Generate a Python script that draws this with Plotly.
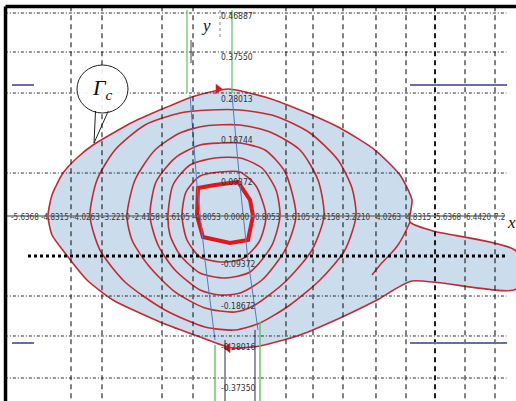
import plotly.graph_objects as go

# ---------------- data (x in axis units, y in axis units) ----------------
x_tick_vals = [-5.6368, -4.8315, -4.0263, -3.2210, -2.4158, -1.6105, -0.8053, 0.0,
               0.8053, 1.6105, 2.4158, 3.2210, 4.0263, 4.8315, 5.6368, 6.4420, 7.2473]
x_tick_text = ["-5.6368", "-4.8315", "-4.0263", "-3.2210", "-2.4158", "-1.6105", "-0.8053",
               "0.0000", "0.8053", "1.6105", "2.4158", "3.2210", "4.0263", "4.8315",
               "5.6368", "6.4420", "7.2"]
y_tick_vals = [0.46887, 0.37550, 0.28013, 0.18744, 0.09372, -0.09372, -0.18672, -0.28016, -0.37350]
y_tick_text = ["0.46887", "0.37550", "0.28013", "0.18744", "0.09372", "-0.09372", "-0.18672",
               "-0.28016", "-0.37350"]

grid_x = [-4.412, -3.588, -1.993, -1.169, 1.302, 2.020, 2.817, 3.694, 4.492, 5.262, 6.060, 6.857]
grid_y = [0.4590, 0.3708, 0.2781, 0.0972, -0.1809, -0.2713, -0.3663]
dotted_y = -0.0904

# outer boundary Gamma_c (with tail to the right)
outer_x = [-5.023, -4.917, -4.625, -4.226, -3.827, -2.764, -1.860, -1.116, -0.239, 0.744, 1.674,
           2.738, 3.668, 4.332, 4.651, 4.598, 5.209, 7.415, 7.415, 4.651, 3.721, 2.738, 1.674,
           0.611, -0.133, -0.983, -2.047, -3.296, -3.987, -4.572, -4.917, -5.023]
outer_y = [0.0, 0.0475, 0.0972, 0.1334, 0.1605, 0.2125, 0.2464, 0.2713, 0.2871, 0.2690, 0.2397,
           0.1990, 0.1492, 0.0927, 0.0362, -0.0136, -0.0339, -0.0791, -0.1650, -0.1470, -0.1899,
           -0.2306, -0.2690, -0.2939, -0.2984, -0.2736, -0.2397, -0.1899, -0.1447, -0.0837,
           -0.0430, 0.0]

loop5_x = [-3.907, -3.721, -3.243, -2.445, -1.515, -0.718, 0.080, 1.010, 1.940, 2.684, 3.056, 3.163,
           2.870, 2.206, 1.409, 0.611, -0.053, -0.851, -1.914, -2.977, -3.641, -3.907]
loop5_y = [0.0, 0.0814, 0.1492, 0.2057, 0.2329, 0.2397, 0.2397, 0.2261, 0.1877, 0.1266, 0.0633, 0.0,
           -0.0769, -0.1447, -0.2012, -0.2419, -0.2577, -0.2510, -0.2125, -0.1492, -0.0769, 0.0]

loop4_x = [-2.924, -2.711, -2.179, -1.515, -0.851, 0.080, 0.877, 1.674, 2.153, 2.312, 1.993, 1.276,
           0.478, -0.053, -0.851, -1.648, -2.365, -2.791, -2.924]
loop4_y = [0.0, 0.0814, 0.1492, 0.1877, 0.2035, 0.2057, 0.1899, 0.1492, 0.0814, 0.0, -0.0769, -0.1492,
           -0.2012, -0.2170, -0.2080, -0.1718, -0.1108, -0.0543, 0.0]

loop3_x = [-2.312, -2.153, -1.648, -0.983, -0.452, 0.080, 0.744, 1.276, 1.568, 1.276, 0.664, 0.080,
           -0.452, -0.983, -1.648, -2.100, -2.312]
loop3_y = [0.0, 0.0769, 0.1311, 0.1605, 0.1650, 0.1650, 0.1492, 0.0995, 0.0, -0.0769, -0.1447, -0.1741,
           -0.1786, -0.1673, -0.1221, -0.0656, 0.0]

loop2_x = [-1.834, -1.701, -1.249, -0.585, 0.080, 0.664, 1.037, 1.143, 0.930, 0.346, -0.319, -0.983,
           -1.515, -1.781, -1.834]
loop2_y = [0.0, 0.0701, 0.1153, 0.1311, 0.1311, 0.1085, 0.0588, 0.0, -0.0656, -0.1266, -0.1402, -0.1289,
           -0.0882, -0.0430, 0.0]

loop1_x = [-1.462, -1.355, -0.983, -0.452, 0.080, 0.505, 0.771, 0.585, 0.133, -0.452, -0.983, -1.329, -1.462]
loop1_y = [0.0, 0.0543, 0.0904, 0.0995, 0.0995, 0.0678, 0.0, -0.0588, -0.0972, -0.1040, -0.0927, -0.0543, 0.0]

inner_x = [-1.063, -1.037, -0.585, 0.027, 0.346, 0.425, 0.292, -0.186, -0.904, -1.063]
inner_y = [0.0, 0.0633, 0.0701, 0.0769, 0.0362, 0.0, -0.0543, -0.0610, -0.0475, 0.0]

extra_x = [4.598, 4.279, 3.801, 3.588]
extra_y = [-0.0136, -0.0656, -0.1108, -0.1334]

blue_left_x = [-1.249, -1.063, -0.851, -0.585]
blue_left_y = [0.2736, 0.0701, -0.0995, -0.2804]
blue_right_x = [-0.133, 0.080, 0.292, 0.558]
blue_right_y = [0.2736, 0.0701, -0.0995, -0.2577]

green_top_x = [-1.329, -0.133]
green_top_y = [0.4657, 0.2781]
green_bot = [(-0.585, -0.2917), (0.611, -0.2397)]
dark_bot = [(-0.319, -0.2804), (0.478, -0.2577)]

blue_bars_y = [0.2962, -0.2871]
blue_bars_x = [(-5.980, -5.395), (4.598, 7.176)]

arrow_top = (-0.505, 0.2871)
arrow_bot = (-0.239, -0.2984)

X_RANGE = [-6.299, 7.415]
Y_RANGE = [-0.4183, 0.4884]

RED = "#c42a33"
NARROW = "DejaVu Sans Condensed, Liberation Sans Narrow, Arial Narrow, Liberation Sans, sans-serif"
fig = go.Figure()

fig.add_trace(go.Scatter(x=outer_x, y=outer_y, mode="lines", fill="toself",
                         fillcolor="#cbdced", line=dict(color=RED, width=1.6, shape="spline", smoothing=0.6),
                         hoverinfo="skip", showlegend=False))
for lx, ly in [(loop5_x, loop5_y), (loop4_x, loop4_y), (loop3_x, loop3_y),
               (loop2_x, loop2_y), (loop1_x, loop1_y)]:
    fig.add_trace(go.Scatter(x=lx, y=ly, mode="lines",
                             line=dict(color=RED, width=1.6, shape="spline", smoothing=0.7),
                             hoverinfo="skip", showlegend=False))
fig.add_trace(go.Scatter(x=extra_x, y=extra_y, mode="lines",
                         line=dict(color=RED, width=1.5, shape="spline"), showlegend=False))
fig.add_trace(go.Scatter(x=inner_x, y=inner_y, mode="lines",
                         line=dict(color="#e3161c", width=4), showlegend=False))
for bx, by in [(blue_left_x, blue_left_y), (blue_right_x, blue_right_y)]:
    fig.add_trace(go.Scatter(x=bx, y=by, mode="lines",
                             line=dict(color="#5a78b8", width=1), showlegend=False))
# arrows on Gamma_c
fig.add_trace(go.Scatter(x=[arrow_top[0]], y=[arrow_top[1]], mode="markers",
                         marker=dict(symbol="triangle-right", size=9, color="#e0141a"), showlegend=False))
fig.add_trace(go.Scatter(x=[arrow_bot[0]], y=[arrow_bot[1]], mode="markers",
                         marker=dict(symbol="triangle-left", size=9, color="#e0141a"), showlegend=False))

shapes = []
# grid (above the shading)
for gx in grid_x:
    shapes.append(dict(type="line", xref="x", yref="y", x0=gx, x1=gx, y0=0.474, y1=Y_RANGE[0],
                       line=dict(color="#1a1a1a", width=2 if abs(gx - 5.262) < 1e-6 else 1.1,
                                 dash="5px,4px"), layer="above"))
for gy in grid_y:
    shapes.append(dict(type="line", xref="x", yref="y", x0=-6.17, x1=7.16, y0=gy, y1=gy,
                       line=dict(color="#2a2a2a", width=1, dash="3px,2px,1px,2px"), layer="above"))
shapes.append(dict(type="line", xref="x", yref="y", x0=-5.555, x1=7.123, y0=dotted_y, y1=dotted_y,
                   line=dict(color="#000000", width=3, dash="3px,3px"), layer="above"))
# x axis line
shapes.append(dict(type="line", xref="x", yref="y", x0=-6.17, x1=7.12, y0=0, y1=0,
                   line=dict(color="#7a7a7a", width=1.5), layer="above"))
# green / dark vertical guide lines
for gx in green_top_x:
    shapes.append(dict(type="line", xref="x", yref="y", x0=gx, x1=gx, y0=green_top_y[0], y1=green_top_y[1],
                       line=dict(color="#5cc45c", width=1.2), layer="above"))
for gx, gy in green_bot:
    shapes.append(dict(type="line", xref="x", yref="y", x0=gx, x1=gx, y0=gy, y1=Y_RANGE[0],
                       line=dict(color="#5cc45c", width=1.4), layer="above"))
for gx, gy in dark_bot:
    shapes.append(dict(type="line", xref="x", yref="y", x0=gx, x1=gx, y0=gy, y1=Y_RANGE[0],
                       line=dict(color="#2b2b4a", width=1), layer="above"))
shapes.append(dict(type="line", xref="x", yref="y", x0=-0.452, x1=-0.452, y0=0.4657, y1=0.4002,
                   line=dict(color="#888888", width=1, dash="dot"), layer="above"))
shapes.append(dict(type="line", xref="x", yref="y", x0=-1.222, x1=-1.222, y0=0.3980, y1=0.3459,
                   line=dict(color="#444444", width=1), layer="above"))
# short blue bars
for by in blue_bars_y:
    for x0, x1 in blue_bars_x:
        shapes.append(dict(type="line", xref="x", yref="y", x0=x0, x1=x1, y0=by, y1=by,
                           line=dict(color="#6a6ea6", width=2), layer="above"))
# Gamma_c speech bubble
shapes.append(dict(type="circle", xref="x", yref="y", x0=-4.253, x1=-2.897, y0=0.2329, y1=0.3414,
                   line=dict(color="#222222", width=1), fillcolor="rgba(255,255,255,0.9)", layer="above"))
shapes.append(dict(type="path", xref="x", yref="y",
                   path="M -3.760,0.2375 L -3.800,0.1650 L -3.420,0.2375",
                   line=dict(color="#222222", width=1), layer="above"))
# frame (top / left)
shapes.append(dict(type="line", xref="paper", yref="paper", x0=0.0107, x1=1.0, y0=0.984, y1=0.984,
                   line=dict(color="#000000", width=3.5)))
shapes.append(dict(type="line", xref="paper", yref="paper", x0=0.0107, x1=0.0107, y0=0.0, y1=0.984,
                   line=dict(color="#000000", width=3.5)))

annotations = []
for v, t in zip(x_tick_vals, x_tick_text):
    last = (t == "7.2")
    annotations.append(dict(x=v, y=0, xref="x", yref="y", text=t, showarrow=False,
                            font=dict(family=NARROW, size=8, color="#3a3a3a"),
                            xanchor="right" if last else "center", yanchor="middle",
                            xshift=-3 if last else 0, yshift=-1))
for v, t in zip(y_tick_vals, y_tick_text):
    annotations.append(dict(x=-0.48, y=v, xref="x", yref="y", text=t, showarrow=False,
                            font=dict(family=NARROW, size=8.5, color="#333333"),
                            xanchor="left", yanchor="middle", yshift=-7))
annotations.append(dict(x=-0.824, y=0.4318, xref="x", yref="y", text="<i>y</i>", showarrow=False,
                        font=dict(family="Liberation Serif, serif", size=17, color="#111111")))
annotations.append(dict(x=7.30, y=-0.0136, xref="x", yref="y", text="<i>x</i>", showarrow=False,
                        font=dict(family="Liberation Serif, serif", size=17, color="#111111")))
annotations.append(dict(x=-3.588, y=0.2871, xref="x", yref="y",
                        text="<i>Γ</i><sub><i>c</i></sub>", showarrow=False,
                        font=dict(family="Liberation Serif, serif", size=22, color="#111111")))

fig.update_layout(
    width=516, height=401, margin=dict(l=0, r=0, t=0, b=0),
    paper_bgcolor="white", plot_bgcolor="white",
    xaxis=dict(range=X_RANGE, visible=False, fixedrange=True),
    yaxis=dict(range=Y_RANGE, visible=False, fixedrange=True),
    shapes=shapes, annotations=annotations, showlegend=False,
)
fig.write_html("out.html")
